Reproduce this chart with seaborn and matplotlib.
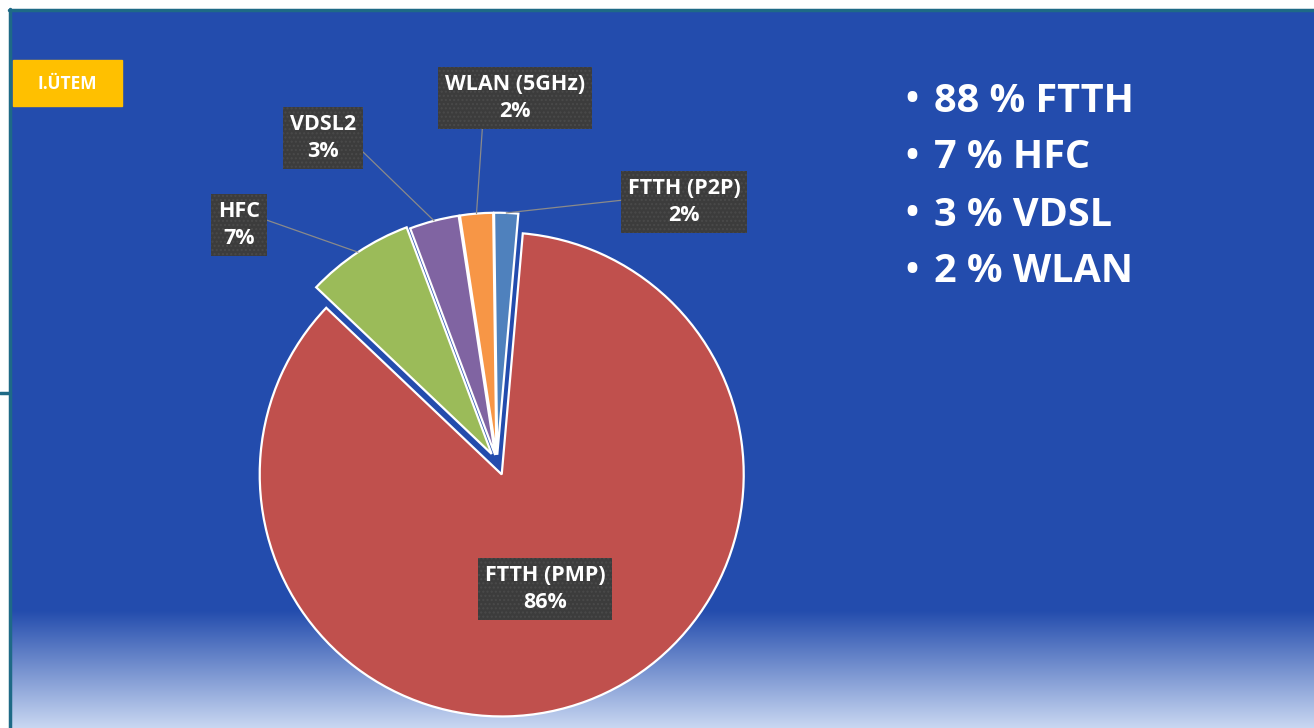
import numpy as np
import matplotlib
matplotlib.use("Agg")
import matplotlib.pyplot as plt
from matplotlib.patches import Rectangle
import seaborn as sns

# data
labels = ["FTTH (P2P)", "WLAN (5GHz)", "VDSL2", "HFC", "FTTH (PMP)"]
shares = [1.6, 2.2, 3.3, 7.2, 85.7]
colors = ["#4F81BD", "#F79646", "#8064A2", "#9BBB59", "#C0504D"]
summary = ["88 % FTTH", "7 % HFC", "3 % VDSL", "2 % WLAN"]
badge = "I.ÜTEM"

# layout (pixels, y from top)
W, H = 1314, 728
cx, cy, R = 497, 462, 242
explode = [0.03, 0.03, 0.03, 0.04, 0.055]
label_px = [(684, 202), (515, 98), (323, 138), (239, 225), (545, 589)]
relpos = [(0, 0.55), (0.27, 0), (1, 0.35), (1, 0.65), None]

sns.set_theme(style="white")
plt.rcParams["font.family"] = ["Open Sans", "DejaVu Sans"]

fig = plt.figure(figsize=(W / 100, H / 100), dpi=100)
fig.patch.set_facecolor("white")

# background panel
bg = fig.add_axes([0, 0, 1, 1])
bg.set_xlim(0, W)
bg.set_ylim(H, 0)
bg.axis("off")
blue = np.array([35, 76, 173]) / 255
light = np.array([202, 216, 242]) / 255
rows = np.arange(9, H)
t = np.clip((rows - 610) / (H - 610), 0, 1)[:, None]
grad = (blue * (1 - t) + light * t)[:, None, :]
bg.imshow(grad, extent=[10, W, H, 9], aspect="auto", zorder=0)
teal = "#1E6A86"
bg.plot([10, 10], [9, H], color=teal, lw=2.5, zorder=1)
bg.plot([9, W], [9.5, 9.5], color=teal, lw=2.5, zorder=1)
bg.plot([0, 10], [393, 393], color=teal, lw=2.5, zorder=1)

bg.add_patch(Rectangle((13, 60), 109, 46, color="#FFC000", zorder=2))
bg.text(67, 84, badge, ha="center", va="center", color="white",
        fontsize=12.5, fontweight="bold", zorder=3)

for i, s in enumerate(summary):
    y = 101 + 57 * i
    bg.text(905, y, "•", ha="left", va="center", color="white",
            fontsize=25, fontweight="bold")
    bg.text(934, y, s, ha="left", va="center", color="white",
            fontsize=28.5, fontweight="bold")

# pie
ax = fig.add_axes([0, 0, 1, 1], zorder=2)
ax.patch.set_alpha(0)
wedges, _ = ax.pie(shares, colors=colors, startangle=85, counterclock=True,
                   explode=explode, radius=1,
                   wedgeprops=dict(edgecolor="white", linewidth=1.6))
ax.set_xlim(-cx / R, (W - cx) / R)
ax.set_ylim((cy - H) / R, cy / R)
ax.set_aspect("auto")
ax.axis("off")

for w, name, v, (px, py), rp in zip(wedges, labels, shares, label_px, relpos):
    pos = ((px - cx) / R, (cy - py) / R)
    mid = np.deg2rad((w.theta1 + w.theta2) / 2)
    anchor = (w.center[0] + w.r * np.cos(mid), w.center[1] + w.r * np.sin(mid))
    arrow = None
    if rp is not None:
        arrow = dict(arrowstyle="-", color="#8a8a8a", lw=0.9,
                     shrinkA=0, shrinkB=0, relpos=rp)
    ax.annotate(f"{name}\n{v:.0f}%", xy=anchor, xytext=pos, textcoords="data",
                ha="center", va="center", color="white", fontsize=15.5,
                fontweight="bold", linespacing=1.4,
                bbox=dict(boxstyle="square,pad=0.32", fc="#3c3c3c",
                          ec="#4a4a4a", lw=0, hatch="...."),
                arrowprops=arrow, zorder=5)

fig.savefig("out.png", dpi=100, facecolor=fig.get_facecolor())
